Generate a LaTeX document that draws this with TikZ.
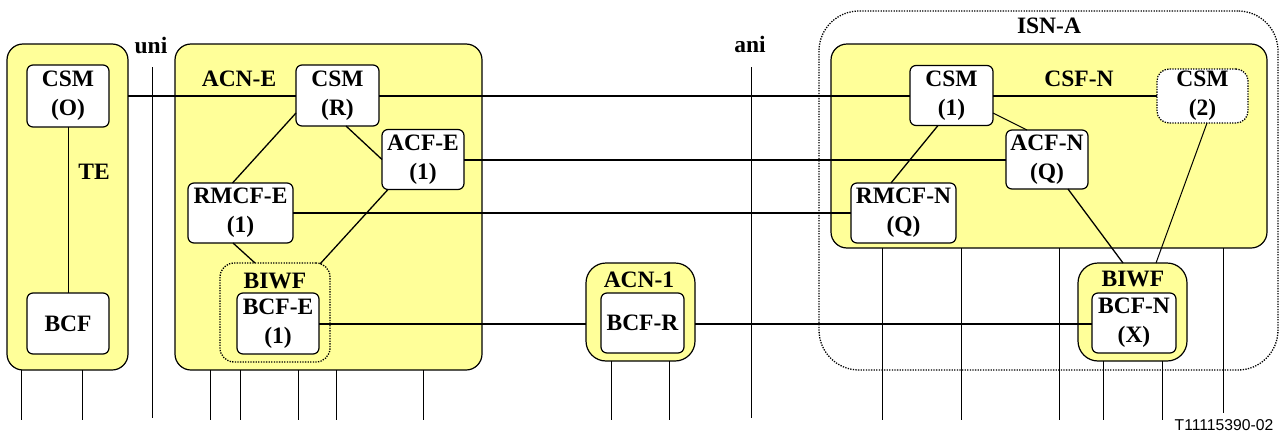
\documentclass[tikz,border=0pt]{standalone}
\usepackage{fontspec}
\setmainfont{Liberation Serif}
\newfontfamily\labsans{Liberation Sans}
\usetikzlibrary{calc}
\definecolor{pale}{HTML}{FFFF99}
\begin{document}
\begin{tikzpicture}[x=1pt,y=-1pt,
  every node/.style={font=\fontsize{23.5}{29}\selectfont\bfseries, inner sep=0pt, outer sep=0pt},
  outerbox/.style={draw, fill=pale, line width=1.2pt, rounded corners=16pt},
  fnbox/.style={draw, fill=white, line width=1.2pt, rounded corners=6pt, align=center},
  dotbox/.style={draw, line width=1.3pt, dash pattern=on 1.3pt off 1.3pt},
  link/.style={line width=2pt},
  thinline/.style={line width=1pt},
  diag/.style={line width=1.3pt},
]
\useasboundingbox (0,0) rectangle (1283,434);
% enclosing boxes
\node[dotbox, rounded corners=40pt, minimum width=459pt, minimum height=359pt] (isna) at (1048.5,190.5) {};
\node (isnalab) at (1049,26) {ISN-A};
\node[outerbox, minimum width=121pt, minimum height=326pt] (te) at (67.5,207) {};
\node[outerbox, minimum width=307pt, minimum height=326pt] (acne) at (328.5,207) {};
\node[outerbox, rounded corners=20pt, minimum width=109pt, minimum height=98pt] (acn1) at (640.5,312) {};
\node[outerbox, minimum width=436pt, minimum height=204pt] (csfn) at (1049,146) {};
\node[outerbox, rounded corners=20pt, minimum width=109pt, minimum height=98pt] (biwfn) at (1132.5,312) {};
\node[dotbox, fill=pale, rounded corners=14pt, minimum width=110pt, minimum height=99pt] (biwfe) at (275,312.5) {};
% labels
\node (telab) at (94,172) {TE};
\node (acnelab) at (239,79) {ACN-E};
\node (acn1lab) at (639,280) {ACN-1};
\node (csfnlab) at (1079,79) {CSF-N};
\node (biwfelab) at (275,281) {BIWF};
\node (biwfnlab) at (1133,279) {BIWF};
\node (unilab) at (151,45) {uni};
\node (anilab) at (750,44) {ani};
\node[font=\labsans\fontsize{15.7}{18}\selectfont] (code) at (1224,425) {T11115390-02};
% functional boxes
\node[fnbox, minimum width=82pt, minimum height=62pt] (csmo) at (68,96) {CSM\\(O)};
\node[fnbox, minimum width=82pt, minimum height=61pt] (bcf) at (68,323.5) {BCF};
\node[fnbox, minimum width=83pt, minimum height=61pt] (csmr) at (337.5,95.5) {CSM\\(R)};
\node[fnbox, minimum width=82pt, minimum height=60pt] (acfe) at (423,159.5) {ACF-E\\(1)};
\node[fnbox, minimum width=105pt, minimum height=60pt] (rmcfe) at (240.5,213) {RMCF-E\\(1)};
\node[fnbox, minimum width=82pt, minimum height=61pt] (bcfe) at (278,323.5) {BCF-E\\(1)};
\node[fnbox, minimum width=83pt, minimum height=60pt] (bcfr) at (642.5,323) {BCF-R};
\node[fnbox, minimum width=83pt, minimum height=60pt] (csm1) at (951.5,95.5) {CSM\\(1)};
\node[fnbox, line width=1.3pt, dash pattern=on 1.3pt off 1.3pt, rounded corners=12pt, minimum width=91pt, minimum height=54pt] (csm2) at (1202.5,96) {CSM\\(2)};
\node[fnbox, minimum width=82pt, minimum height=59pt] (acfn) at (1047,159.5) {ACF-N\\(Q)};
\node[fnbox, minimum width=105pt, minimum height=60pt] (rmcfn) at (903.5,213) {RMCF-N\\(Q)};
\node[fnbox, minimum width=84pt, minimum height=60pt] (bcfn) at (1134,323) {BCF-N\\(X)};
% reference points
\coordinate (unitop) at (152,67);
\coordinate (unibot) at (152,418);
\coordinate (anitop) at (751,67);
\coordinate (anibot) at (751,418);
\draw[thinline] (unitop) -- (unibot);
\draw[thinline] (anitop) -- (anibot);
% horizontal links
\draw[link] (te.east |- csmr.west) -- (csmr.west);
\draw[link] (csmr.east) -- (csm1.west);
\draw[link] (csm1.east) -- (csm2.west |- csm1.east);
\draw[link] (acfe.east) -- (acfn.west);
\draw[link] (rmcfe.east) -- (rmcfn.west);
\draw[link] (bcfe.east) -- (acn1.west |- bcfe.east);
\draw[link] (acn1.east |- bcfe.east) -- (bcfn.west |- bcfe.east);
% internal links
\draw[thinline] (csmo.south) -- (bcf.north);
\draw[diag] ($(csmr.south west)+(0,-13)$) -- ($(rmcfe.north)+(-8,0)$);
\draw[diag] ($(csmr.south)+(8.5,0)$) -- (acfe.west);
\draw[diag] ($(acfe.south west)+(6,0)$) -- ($(biwfe.north east)+(-10,1)$);
\draw[diag] ($(rmcfe.south)+(-7.5,0)$) -- ($(biwfe.north)+(-20,0)$);
\draw[thinline] ($(csm1.east)+(0,17.5)$) -- ($(acfn.north)+(-20,0)$);
\draw[diag] ($(csm1.south)+(-13.5,0)$) -- ($(rmcfn.north)+(-12.5,0)$);
\draw[diag] ($(acfn.south)+(21,0)$) -- ($(biwfn.north)+(-9.5,0)$);
\draw[thinline] ($(csm2.south)+(4.5,0)$) -- ($(biwfn.north)+(23.5,0)$);
% lines below the boxes
\foreach \dx in {14,75} \draw[thinline] ($(te.south west)+(\dx,0)$) -- ++(0,50);
\foreach \dx in {35,65,123,161,248} \draw[thinline] ($(acne.south west)+(\dx,0)$) -- ++(0,50);
\foreach \dx in {25,83} \draw[thinline] ($(acn1.south west)+(\dx,0)$) -- ++(0,59);
\foreach \dx in {51,130,228} \draw[thinline] ($(csfn.south west)+(\dx,0)$) -- ++(0,172);
\draw[thinline] ($(csfn.south west)+(392,0)$) -- ++(0,165);
\foreach \dx in {25,84} \draw[thinline] ($(biwfn.south west)+(\dx,0)$) -- ++(0,59);
\end{tikzpicture}
\end{document}
